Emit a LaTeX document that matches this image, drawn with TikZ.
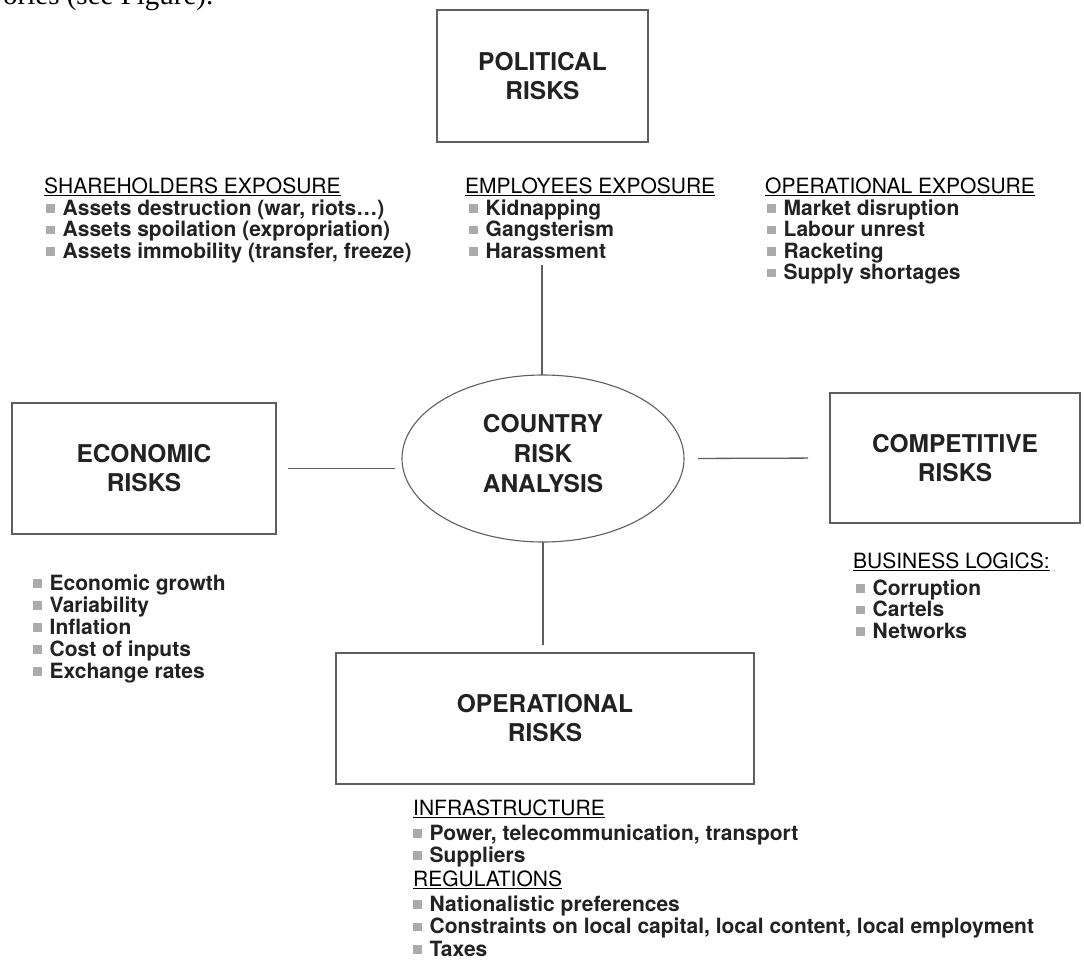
\documentclass[tikz,border=0pt]{standalone}
\usepackage{fontspec}
\setmainfont{TeX Gyre Heros}
\newfontfamily\bookfont{Liberation Serif}
\usetikzlibrary{shapes.geometric}

\definecolor{framegray}{HTML}{5E5E5E}
\definecolor{bulletgray}{HTML}{ABABAB}
\definecolor{inkgray}{HTML}{222222}

% small grey square in front of each list entry
\newcommand{\sqbullet}{\textcolor{bulletgray}{\rule[2.5pt]{8.5pt}{8.5pt}}\hspace{8pt}}
% underlined list title
\newcommand{\listtitle}[1]{\setbox0\hbox{#1}\rlap{\rule[-3pt]{\wd0}{1.5pt}}\box0}

\tikzset{
	riskbox/.style={draw=framegray, line width=1.4pt, inner sep=0pt, outer sep=0pt, align=center, text=inkgray, font=\fontsize{24.5}{29}\selectfont\bfseries},
	hub/.style={ellipse, draw=framegray, line width=1.1pt, inner sep=0pt, outer sep=0pt, align=center, text depth=11pt, text=inkgray, font=\fontsize{24.5}{30}\selectfont\bfseries},
	link/.style={draw=framegray, line width=1.3pt},
	listhead/.style={anchor=base west, inner sep=0pt, text=black, font=\fontsize{21}{24}\selectfont},
	listitem/.style={anchor=base west, inner sep=0pt, text=inkgray, font=\fontsize{21}{24}\selectfont\bfseries},
}

\begin{document}
\begin{tikzpicture}[x=1pt, y=-1pt]

	\useasboundingbox[fill=white] (0,0) rectangle (1084,962);

	% last line of the running text above
	\node[anchor=base west, inner sep=0pt, font=\bookfont\fontsize{29}{34}\selectfont] (runon) at (3,4) {ories (see Figure).};

	% risk boxes
	\node[riskbox, minimum width=211pt, minimum height=132pt] (pol) at (542.5,76) {POLITICAL\\RISKS};
	\node[riskbox, minimum width=264pt, minimum height=131pt] (eco) at (144,468.5) {ECONOMIC\\RISKS};
	\node[riskbox, minimum width=250pt, minimum height=130pt] (comp) at (955,458) {COMPETITIVE\\RISKS};
	\node[riskbox, minimum width=418pt, minimum height=131pt] (oper) at (545,718.5) {OPERATIONAL\\RISKS};

	% centre ellipse
	\node[hub, minimum width=282pt, minimum height=167pt] (crisk) at (543,458.5) {COUNTRY\\RISK\\ANALYSIS};

	% connectors
	\coordinate (polfoot) at (542,265);
	\draw[link] (polfoot) -- (polfoot |- crisk.north);
	\draw[link, shorten <=12pt, shorten >=7pt] (eco.east) -- (eco.east -| crisk.west);
	\draw[link, shorten <=14pt, shorten >=22pt] (crisk.east) -- (comp.west);
	\draw[link, shorten >=8pt] (crisk.south) -- (crisk.south |- oper.north);

	% political risks
	\node[listhead] (share) at (44,193) {\listtitle{SHAREHOLDERS EXPOSURE}};
	\foreach \txt [count=\i from 0] in {{Assets destruction (war, riots\ldots)}, {Assets spoilation (expropriation)}, {Assets immobility (transfer, freeze)}}
		\node[listitem] (share\i) at (46,215+21.5*\i) {\sqbullet\txt};

	\node[listhead] (emp) at (465,193) {\listtitle{EMPLOYEES EXPOSURE}};
	\foreach \txt [count=\i from 0] in {Kidnapping, Gangsterism, Harassment}
		\node[listitem] (emp\i) at (469,215+21.5*\i) {\sqbullet\txt};

	\node[listhead] (opexp) at (765,193) {\listtitle{OPERATIONAL EXPOSURE}};
	\foreach \txt [count=\i from 0] in {Market disruption, Labour unrest, Racketing, Supply shortages}
		\node[listitem] (opexp\i) at (767,215+21.5*\i) {\sqbullet\txt};

	% economic risks
	\foreach \txt [count=\i from 0] in {Economic growth, Variability, Inflation, Cost of inputs, Exchange rates}
		\node[listitem] (econ\i) at (33,590+22*\i) {\sqbullet\txt};

	% competitive risks
	\node[listhead] (logic) at (853,568) {\listtitle{BUSINESS LOGICS:}};
	\foreach \txt [count=\i from 0] in {Corruption, Cartels, Networks}
		\node[listitem] (logic\i) at (856,595+21.5*\i) {\sqbullet\txt};

	% operational risks
	\node[listhead] (infra) at (413,815) {\listtitle{INFRASTRUCTURE}};
	\foreach \txt [count=\i from 0] in {{Power, telecommunication, transport}, Suppliers}
		\node[listitem] (infra\i) at (413,840+22*\i) {\sqbullet\txt};

	\node[listhead] (regul) at (413,886) {\listtitle{REGULATIONS}};
	\foreach \txt [count=\i from 0] in {Nationalistic preferences, {Constraints on local capital, local content, local employment}, Taxes}
		\node[listitem] (regul\i) at (413,911+22.5*\i) {\sqbullet\txt};

\end{tikzpicture}
\end{document}
